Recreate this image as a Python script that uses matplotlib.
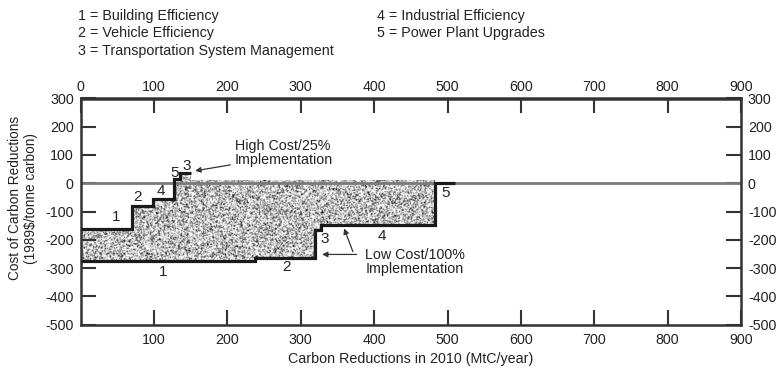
import numpy as np
import matplotlib
matplotlib.use("Agg")
import matplotlib.pyplot as plt

plt.rcParams['font.family'] = ['Liberation Sans', 'DejaVu Sans']

# High cost / 25% implementation supply curve (step edges and cost per step)
high_edges = [0, 70, 99, 127, 136, 150]
high_costs = [-161, -80, -56, 14, 35]
high_labels = ['1', '2', '4', '5', '3']

# Low cost / 100% implementation supply curve
low_edges = [0, 238, 320, 328, 483, 510]
low_costs = [-276, -266, -167, -147, 0]
low_labels = ['1', '2', '3', '4', '5']

# Top of the shaded band beyond the end of the high cost curve
band_top_edges = [150, 483]
band_top_cost = [10]

legend_left = ['1 = Building Efficiency', '2 = Vehicle Efficiency',
               '3 = Transportation System Management']
legend_right = ['4 = Industrial Efficiency', '5 = Power Plant Upgrades']

x_ticks_top = list(range(0, 1000, 100))
x_ticks_bottom = list(range(100, 1000, 100))
y_ticks = list(range(300, -600, -100))

W, H = 780, 373
fig = plt.figure(figsize=(W / 100, H / 100), dpi=100)
ax = fig.add_axes([80.7 / W, 1 - 324.5 / H, (741 - 80.7) / W, (324.5 - 98.5) / H])
ax.set_xlim(0, 900)
ax.set_ylim(-500, 300)

ink = '#1a1a1a'
txt = '#222222'
fs = 10.3


def step_value(edges, costs, x):
    idx = np.clip(np.searchsorted(edges, x, side='right') - 1, 0, len(costs) - 1)
    return np.asarray(costs)[idx]


# shaded region between the two curves
xs = np.array(sorted(set(high_edges) | set(low_edges[:-1]) | set(band_top_edges)), float)
xs = xs[xs <= band_top_edges[-1]]
upper = np.where(xs < high_edges[-1],
                 step_value(high_edges, high_costs, xs),
                 band_top_cost[0])
lower = step_value(low_edges, low_costs, xs)
poly = ax.fill_between(xs, lower, upper, step='post', facecolor='none',
                       edgecolor='none', zorder=1)

# fine stipple texture clipped to the shaded region
rng = np.random.default_rng(7)
noise = rng.random((190, 720))
k = np.array([0.25, 0.5, 0.25])
noise = np.apply_along_axis(lambda r: np.convolve(r, k, mode='same'), 1, noise)
noise = np.apply_along_axis(lambda c: np.convolve(c, k, mode='same'), 0, noise)
noise = np.clip((noise - 0.5) * 2.6 + 0.76, 0, 1)
im = ax.imshow(noise, cmap='gray', vmin=0, vmax=1, extent=[0, 490, -290, 45],
               aspect='auto', interpolation='antialiased', zorder=1)
im.set_clip_path(poly.get_paths()[0], poly.get_transform())

# zero cost line
ax.axhline(0, color='#7a7a7a', lw=2.0, zorder=2)

# step curves
ax.stairs(high_costs, high_edges, baseline=None, color=ink, lw=2.3, zorder=3)
ax.stairs(low_costs, low_edges, baseline=None, color=ink, lw=2.3, zorder=3)

# measure numbers on the curves
high_label_pos = [(48, -120), (77, -49), (109, -27), (128, 35), (144, 61)]
low_label_pos = [(113, -313), (281, -296), (332, -196), (411, -185), (497, -33)]
for lab, (lx, ly) in zip(high_labels, high_label_pos):
    ax.text(lx, ly, lab, ha='center', va='center', fontsize=11, color=txt, zorder=4)
for lab, (lx, ly) in zip(low_labels, low_label_pos):
    ax.text(lx, ly, lab, ha='center', va='center', fontsize=11, color=txt, zorder=4)

# callouts
arrow = dict(arrowstyle='-|>', color='#333333', lw=0.9,
             mutation_scale=8, shrinkA=0, shrinkB=0)
ax.text(210, 106, 'High Cost/25%\nImplementation', ha='left', va='center',
        fontsize=fs, color=txt, linespacing=1.0)
ax.annotate('', xy=(156, 44), xytext=(204, 65), arrowprops=arrow)
ax.text(388, -278, 'Low Cost/100%\nImplementation', ha='left', va='center',
        fontsize=fs, color=txt, linespacing=1.0)
ax.annotate('', xy=(329, -252), xytext=(376, -252), arrowprops=arrow)
ax.annotate('', xy=(359, -160), xytext=(371, -242), arrowprops=arrow)

# axes and ticks
for s in ax.spines.values():
    s.set_linewidth(1.8)
    s.set_color('#333333')
ax.set_xticks(x_ticks_bottom)
ax.set_xticklabels([str(v) for v in x_ticks_bottom])
ax.set_yticks(y_ticks)
ax.set_yticklabels([str(v) for v in y_ticks])
ax.tick_params(axis='both', direction='in', length=11, width=1.5,
               color='#333333', labelsize=fs, labelcolor=txt,
               right=True, labelright=True)
ax.tick_params(axis='x', pad=6)
ax.tick_params(axis='y', pad=5)

top = ax.secondary_xaxis('top')
top.set_xticks(x_ticks_top)
top.set_xticklabels([str(v) for v in x_ticks_top])
top.tick_params(direction='in', length=11, width=1.5, color='#333333',
                labelsize=fs, labelcolor=txt, pad=3)
top.spines['top'].set_linewidth(1.8)
top.spines['top'].set_color('#333333')

ax.set_xlabel('Carbon Reductions in 2010 (MtC/year)', fontsize=fs,
              color=txt, labelpad=4)
fig.text(23 / W, 1 - 198 / H, 'Cost of Carbon Reductions\n(1989$/tonne carbon)',
         rotation=90, ha='center', va='center', fontsize=9.8, color=txt,
         linespacing=1.1)

# measure key
for i, line in enumerate(legend_left):
    fig.text(78 / W, 1 - (15.7 + 17.5 * i) / H, line, ha='left', va='center',
             fontsize=fs, color=txt)
for i, line in enumerate(legend_right):
    fig.text(377 / W, 1 - (15.7 + 17.5 * i) / H, line, ha='left', va='center',
             fontsize=fs, color=txt)

fig.savefig('out.png', dpi=100)
